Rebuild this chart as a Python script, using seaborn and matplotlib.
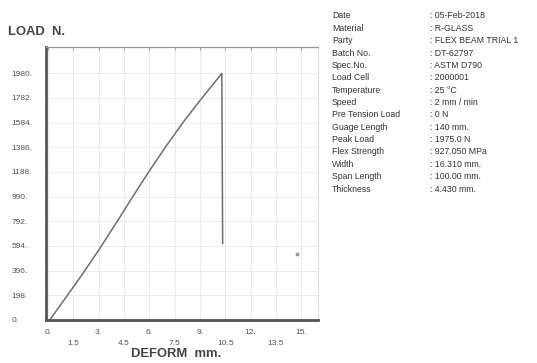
"""
Flexural test record: load vs deformation curve with test parameter panel
"""

import numpy as np
import pandas as pd
import matplotlib.pyplot as plt
import seaborn as sns

# curve (mm, N)
deform = [0.0, 0.1, 1.0, 2.0, 3.0, 4.0, 5.0, 6.0, 7.0, 8.0, 9.0, 10.3, 10.35]
load = [0, 0, 170, 360, 560, 770, 985, 1195, 1395, 1585, 1760, 1978, 612]

# stray point to the right of the break
dot_deform = [14.73]
dot_load = [530]

y_ticks = [0, 198, 396, 594, 792, 990, 1188, 1386, 1584, 1782, 1980]
x_major = [0, 3, 6, 9, 12, 15]
x_minor = [1.5, 4.5, 7.5, 10.5, 13.5]

info_labels = ['Date', 'Material', 'Party', 'Batch No.', 'Spec.No.', 'Load Cell',
               'Temperature', 'Speed', 'Pre Tension Load', 'Guage Length',
               'Peak Load', 'Flex Strength', 'Width', 'Span Length', 'Thickness']
info_values = ['05-Feb-2018', 'R-GLASS', 'FLEX BEAM TRIAL 1', 'DT-62797', 'ASTM D790',
               '2000001', '25 °C', '2 mm / min', '0 N', '140 mm.',
               '1975.0 N', '927.050 MPa', '16.310 mm.', '100.00 mm.', '4.430 mm.']

sns.set_style('white')
plt.rcParams['font.family'] = ['Liberation Sans', 'DejaVu Sans']

W, H = 537, 363
fig = plt.figure(figsize=(W / 100, H / 100), dpi=100)
ax = fig.add_axes([46 / W, 1 - 320 / H, (318 - 46) / W, (320 - 47) / H])

df = pd.DataFrame({'deform': deform, 'load': load})
sns.lineplot(data=df, x='deform', y='load', sort=False, ax=ax,
             color='#6e6e6e', linewidth=1.1)
ax.scatter(dot_deform, dot_load, s=3, color='#999999', zorder=3)

ax.set_xlim(-0.12, 16.0)
ax.set_ylim(0, 2190)
ax.set_xlabel('')
ax.set_ylabel('')

ax.set_yticks(y_ticks)
ax.set_yticklabels([f'{v}.' for v in y_ticks], ha='left')
ax.set_xticks(x_major)
ax.set_xticklabels([f'{v:g}.' for v in x_major])
ax.set_xticks(x_minor, minor=True)
ax.set_xticklabels([f'{v:g}' for v in x_minor], minor=True)

ax.tick_params(axis='y', length=0, pad=25, labelsize=6, labelcolor='#555555')
ax.tick_params(axis='x', which='major', length=0, pad=6.5, labelsize=6,
               labelcolor='#555555')
ax.tick_params(axis='x', which='minor', length=0, pad=14.5, labelsize=6,
               labelcolor='#555555')
ax.tick_params(axis='x', which='both', top=True, direction='in')
ax.tick_params(axis='x', which='both', length=2, color='#999999')

ax.grid(which='both', color='#e8e8e8', linewidth=0.6)

ax.spines['left'].set_linewidth(2)
ax.spines['left'].set_color('#555555')
ax.spines['bottom'].set_linewidth(2)
ax.spines['bottom'].set_color('#555555')
ax.spines['top'].set_linewidth(0.9)
ax.spines['top'].set_color('#999999')
ax.spines['right'].set_linewidth(0.6)
ax.spines['right'].set_color('#cccccc')
ax.spines['right'].set_linestyle((0, (3, 2)))

fig.text(8 / W, 1 - 32 / H, 'LOAD  N.', fontsize=9.4, fontweight='bold',
         color='#444444', va='center', ha='left')
fig.text(176 / W, 1 - 354 / H, 'DEFORM  mm.', fontsize=9.4, fontweight='bold',
         color='#444444', va='center', ha='center')

for i, (lab, val) in enumerate(zip(info_labels, info_values)):
    y = 1 - (16 + 12.36 * i) / H
    fig.text(332 / W, y, lab, fontsize=6.3, color='#333333', va='center', ha='left')
    fig.text(430 / W, y, ': ' + val, fontsize=6.3, color='#333333', va='center', ha='left')

fig.savefig('out.png', dpi=100)
